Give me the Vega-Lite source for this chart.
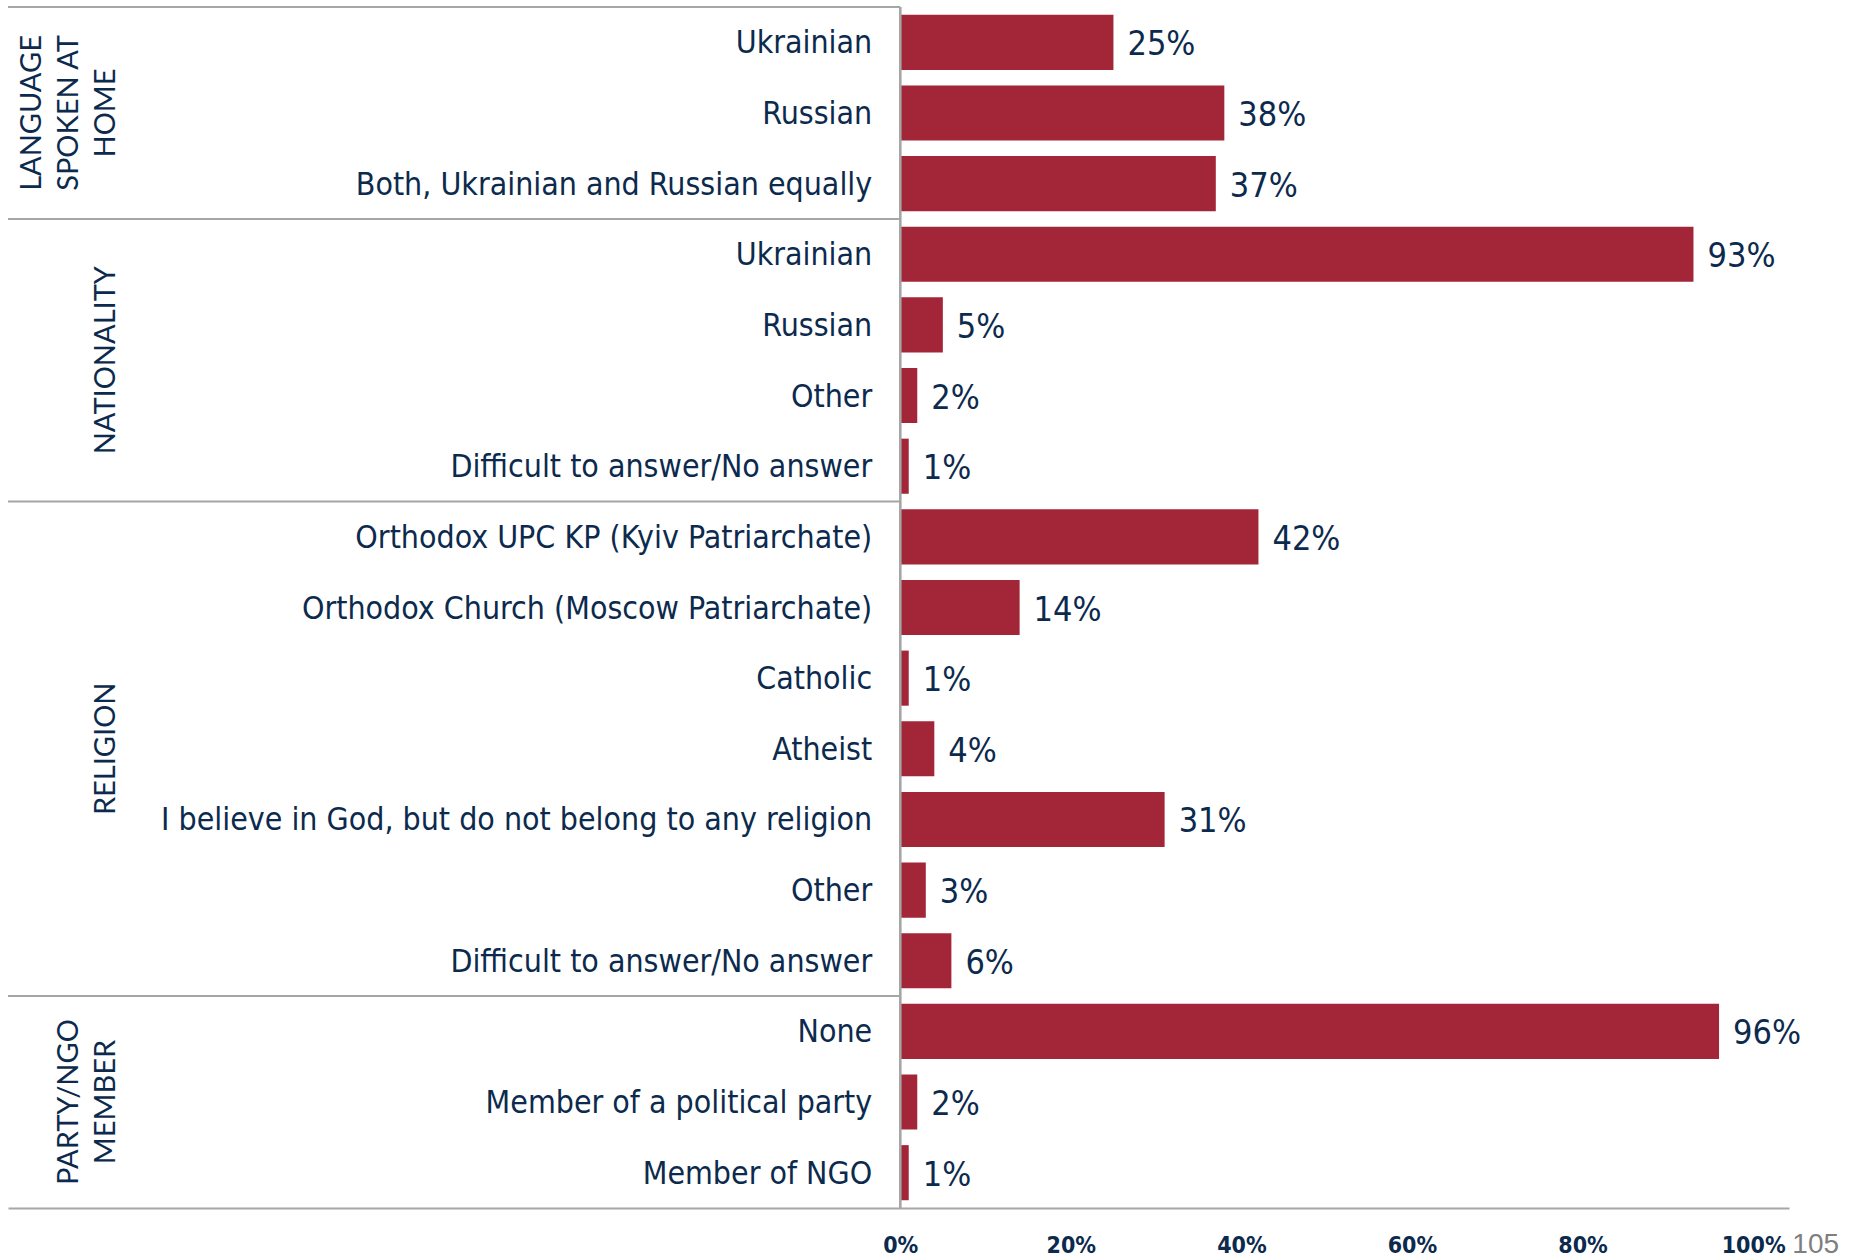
{
  "$schema": "https://vega.github.io/schema/vega-lite/v6.json",
  "width": 1781,
  "height": 1201,
  "autosize": {"type": "none"},
  "padding": {"left": 8, "top": 7, "right": 61, "bottom": 52},
  "background": "white",
  "config": {"view": {"stroke": null}},
  "title": {
    "text": "105",
    "orient": "bottom",
    "anchor": "end",
    "font": "Liberation Sans",
    "fontSize": 28,
    "fontWeight": "normal",
    "color": "#7f7f7f",
    "dx": 38,
    "dy": -30
  },
  "datasets": {
    "rows": [
      {"key": "r01", "group": "Language spoken at home", "label": "Ukrainian", "value": 0.25},
      {"key": "r02", "group": "Language spoken at home", "label": "Russian", "value": 0.38},
      {"key": "r03", "group": "Language spoken at home", "label": "Both, Ukrainian and Russian equally", "value": 0.37},
      {"key": "r04", "group": "Nationality", "label": "Ukrainian", "value": 0.93},
      {"key": "r05", "group": "Nationality", "label": "Russian", "value": 0.05},
      {"key": "r06", "group": "Nationality", "label": "Other", "value": 0.02},
      {"key": "r07", "group": "Nationality", "label": "Difficult to answer/No answer", "value": 0.01},
      {"key": "r08", "group": "Religion", "label": "Orthodox UPC KP (Kyiv Patriarchate)", "value": 0.42},
      {"key": "r09", "group": "Religion", "label": "Orthodox Church (Moscow Patriarchate)", "value": 0.14},
      {"key": "r10", "group": "Religion", "label": "Catholic", "value": 0.01},
      {"key": "r11", "group": "Religion", "label": "Atheist", "value": 0.04},
      {"key": "r12", "group": "Religion", "label": "I believe in God, but do not belong to any religion", "value": 0.31},
      {"key": "r13", "group": "Religion", "label": "Other", "value": 0.03},
      {"key": "r14", "group": "Religion", "label": "Difficult to answer/No answer", "value": 0.06},
      {"key": "r15", "group": "Party/NGO member", "label": "None", "value": 0.96},
      {"key": "r16", "group": "Party/NGO member", "label": "Member of a political party", "value": 0.02},
      {"key": "r17", "group": "Party/NGO member", "label": "Member of NGO", "value": 0.01}
    ],
    "groups": [
      {"title": "LANGUAGE\nSPOKEN AT\nHOME", "first": "r01", "middle": "r02", "rows": 3},
      {"title": "NATIONALITY", "first": "r04", "middle": "r06", "rows": 4},
      {"title": "RELIGION", "first": "r08", "middle": "r11", "rows": 7},
      {"title": "PARTY/NGO\nMEMBER", "first": "r15", "middle": "r16", "rows": 3}
    ]
  },
  "layer": [
    {
      "data": {"name": "rows"},
      "mark": {"type": "bar", "height": {"band": 0.78}, "color": "#a32638"},
      "encoding": {
        "y": {"field": "key", "type": "nominal", "sort": "ascending",
              "scale": {"paddingInner": 0, "paddingOuter": 0}, "axis": null},
        "x": {"field": "value", "type": "quantitative",
              "scale": {"domain": [-1.046, 1.042], "nice": false, "zero": false},
              "axis": {
                "orient": "bottom",
                "values": [0, 0.2, 0.4, 0.6, 0.8, 1],
                "format": ".0%",
                "title": null,
                "grid": false,
                "ticks": false,
                "domainColor": "#a6a6a6",
                "domainWidth": 2,
                "labelFont": "DejaVu Sans Condensed, DejaVu Sans",
                "labelFontWeight": "bold",
                "labelFontSize": 23,
                "labelColor": "#0c2a4d",
                "labelPadding": 26
              }}
      }
    },
    {
      "data": {"name": "rows"},
      "mark": {"type": "text", "align": "left", "baseline": "middle", "dx": 14, "dy": 3,
               "font": "DejaVu Sans Condensed, DejaVu Sans", "fontSize": 34, "color": "#0c2a4d"},
      "encoding": {
        "y": {"field": "key", "type": "nominal", "sort": "ascending"},
        "x": {"field": "value", "type": "quantitative"},
        "text": {"field": "value", "type": "quantitative", "format": ".0%"}
      }
    },
    {
      "data": {"name": "rows"},
      "mark": {"type": "text", "align": "right", "baseline": "middle", "dx": -28, "dy": 1,
               "font": "DejaVu Sans Condensed, DejaVu Sans", "fontSize": 31.8, "color": "#0c2a4d"},
      "encoding": {
        "y": {"field": "key", "type": "nominal", "sort": "ascending"},
        "x": {"datum": 0},
        "text": {"field": "label", "type": "nominal"}
      }
    },
    {
      "data": {"name": "groups"},
      "mark": {"type": "rule", "color": "#a6a6a6", "strokeWidth": 2},
      "encoding": {
        "y": {"field": "first", "type": "nominal", "sort": "ascending", "bandPosition": 0},
        "x": {"datum": -1.046},
        "x2": {"datum": 0}
      }
    },
    {
      "data": {"name": "groups"},
      "mark": {"type": "rule", "color": "#a6a6a6", "strokeWidth": 2},
      "encoding": {
        "x": {"datum": 0}
      }
    },
    {
      "data": {"name": "groups"},
      "transform": [{"filter": "datum.rows % 2 == 1"}],
      "mark": {"type": "text", "angle": 270, "align": "center", "baseline": "alphabetic",
               "lineBreak": "\n", "lineHeight": 37,
               "dy": {"expr": "-37 * (length(split(datum.title, '\\n')) - 1)"},
               "font": "Lato", "fontSize": 29, "color": "#0c2a4d"},
      "encoding": {
        "y": {"field": "middle", "type": "nominal", "sort": "ascending", "bandPosition": 0.5},
        "x": {"datum": -0.92},
        "text": {"field": "title", "type": "nominal"}
      }
    },
    {
      "data": {"name": "groups"},
      "transform": [{"filter": "datum.rows % 2 == 0"}],
      "mark": {"type": "text", "angle": 270, "align": "center", "baseline": "alphabetic",
               "lineBreak": "\n", "lineHeight": 37,
               "dy": {"expr": "-37 * (length(split(datum.title, '\\n')) - 1)"},
               "font": "Lato", "fontSize": 29, "color": "#0c2a4d"},
      "encoding": {
        "y": {"field": "middle", "type": "nominal", "sort": "ascending", "bandPosition": 0},
        "x": {"datum": -0.92},
        "text": {"field": "title", "type": "nominal"}
      }
    }
  ]
}
